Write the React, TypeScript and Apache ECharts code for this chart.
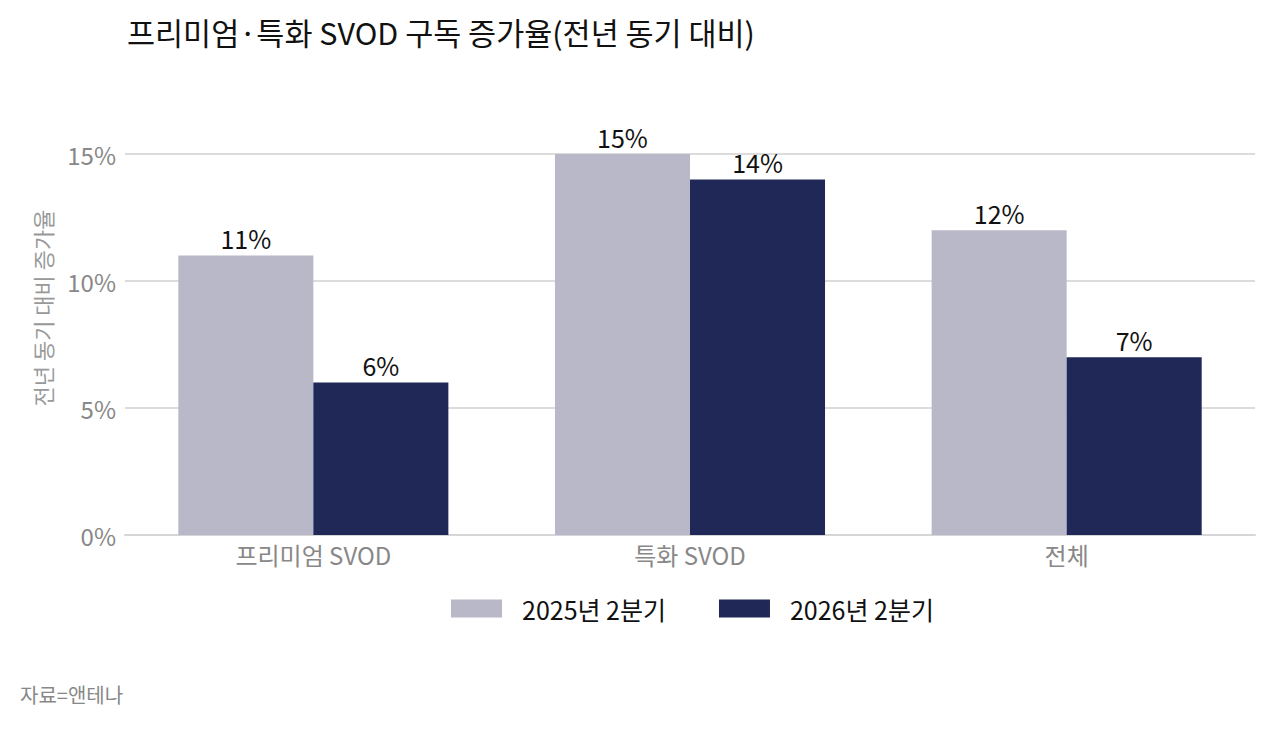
import React, { useEffect, useRef } from "react";
import * as echarts from "echarts";

const categories = ["프리미엄 SVOD", "특화 SVOD", "전체"];
const series2025 = [11, 15, 12];
const series2026 = [6, 14, 7];
const seriesNames = ["2025년 2분기", "2026년 2분기"];
const yTicks = [0, 5, 10, 15];

const FONT = '"Noto Sans CJK KR", "Noto Sans", sans-serif';

export default function App() {
  const ref = useRef<HTMLDivElement>(null);
  useEffect(() => {
    document.body.style.margin = "0";
    const chart = echarts.init(ref.current!, null, { renderer: "svg" });
    const label = {
      show: true,
      position: "top",
      distance: 5,
      formatter: "{c}%",
      fontFamily: FONT,
      fontSize: 25,
      color: "#111111",
    };
    chart.setOption({
      animation: false,
      backgroundColor: "#ffffff",
      textStyle: { fontFamily: FONT },
      title: {
        text: "프리미엄·특화 SVOD 구독 증가율(전년 동기 대비)",
        left: 122,
        top: 12,
        textStyle: { fontFamily: FONT, fontSize: 30.5, fontWeight: "normal", color: "#111111" },
      },
      legend: {
        data: seriesNames,
        left: 446,
        top: 591,
        itemWidth: 51,
        itemHeight: 18,
        itemGap: 53,
        icon: "rect",
        textStyle: { fontFamily: FONT, fontSize: 25, color: "#111111", padding: [0, 0, 0, 15] },
      },
      grid: { left: 125, right: 19, top: 154, bottom: 196, containLabel: false },
      xAxis: {
        type: "category",
        data: categories,
        axisTick: { show: false },
        axisLine: { lineStyle: { color: "#d6d6d6", width: 2 } },
        axisLabel: { fontFamily: FONT, fontSize: 24, color: "#888888", margin: 7 },
      },
      yAxis: {
        type: "value",
        min: yTicks[0],
        max: yTicks[yTicks.length - 1],
        interval: 5,
        axisLine: { show: false },
        axisTick: { show: false },
        splitLine: { lineStyle: { color: "#dcdcdc", width: 2 } },
        axisLabel: {
          fontFamily: FONT,
          fontSize: 24,
          color: "#888888",
          margin: 9,
          formatter: (v: number) => `${v}%`,
        },
      },
      graphic: [
        {
          type: "text",
          x: 42,
          y: 308,
          rotation: Math.PI / 2,
          style: {
            text: "전년 동기 대비 증가율",
            font: `22px ${FONT}`,
            fill: "#999999",
            align: "center",
            verticalAlign: "middle",
          },
        },
        {
          type: "text",
          left: 20,
          top: 684,
          style: {
            text: "자료=앤테나",
            font: `20px ${FONT}`,
            fill: "#888888",
          },
        },
      ],
      series: [
        {
          name: seriesNames[0],
          type: "bar",
          data: series2025,
          barGap: "0%",
          barCategoryGap: "28.3%",
          itemStyle: { color: "#b9b8c8" },
          label,
        },
        {
          name: seriesNames[1],
          type: "bar",
          data: series2026,
          barGap: "0%",
          barCategoryGap: "28.3%",
          itemStyle: { color: "#1f2857" },
          label,
        },
      ],
    });
    return () => chart.dispose();
  }, []);
  return <div ref={ref} style={{ width: 1274, height: 731 }} />;
}
